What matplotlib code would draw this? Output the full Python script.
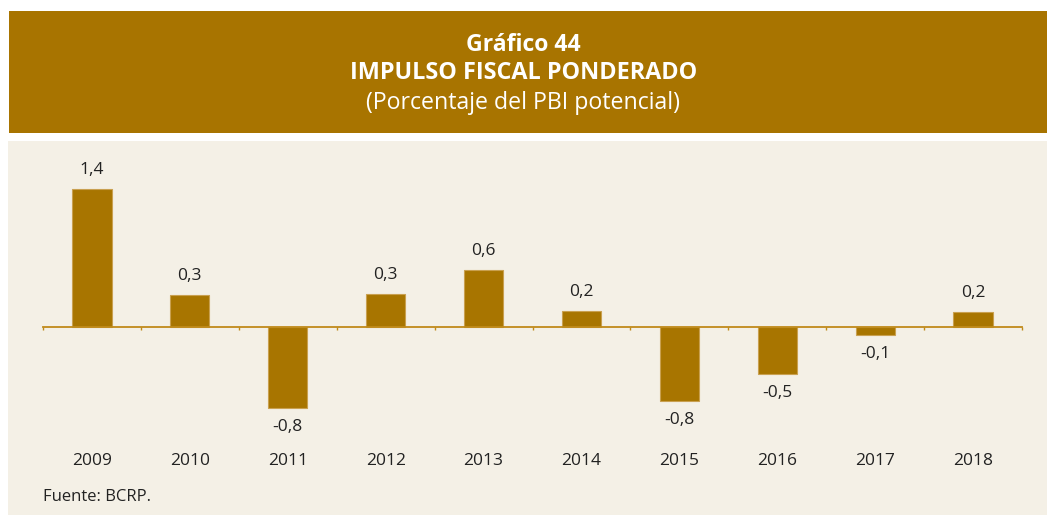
import matplotlib
matplotlib.use("Agg")
import matplotlib.pyplot as plt
from matplotlib.patches import Rectangle
from matplotlib.transforms import blended_transform_factory

# ---- data ----
years = ["2009", "2010", "2011", "2012", "2013", "2014", "2015", "2016", "2017", "2018"]
values = [1.40, 0.32, -0.82, 0.33, 0.58, 0.16, -0.75, -0.48, -0.08, 0.15]
labels = ["1,4", "0,3", "-0,8", "0,3", "0,6", "0,2", "-0,8", "-0,5", "-0,1", "0,2"]
title_lines = ["Gráfico 44", "IMPULSO FISCAL PONDERADO", "(Porcentaje del PBI potencial)"]
source = "Fuente: BCRP."

GOLD = "#A87400"
BAR = "#A87500"
BAR_EDGE = "#C9A050"
PANEL = "#F4F0E6"
TEXT = "#222222"
FONT = "Open Sans"

W, H = 1047, 515
fig = plt.figure(figsize=(W / 100, H / 100), dpi=100)
fig.patch.set_facecolor("white")


def fx(x):
    return x / W


def fy(y):
    return 1 - y / H


# banner
fig.patches.append(Rectangle((fx(9), fy(133)), fx(1047 - 9), (133 - 11) / H,
                             transform=fig.transFigure, facecolor=GOLD, edgecolor="none", zorder=-2))
# panel
fig.patches.append(Rectangle((fx(8), 0), fx(1047 - 8), (515 - 141) / H,
                             transform=fig.transFigure, facecolor=PANEL, edgecolor="none", zorder=-2))

fig.text(0.5, fy(45), title_lines[0], ha="center", va="center", color="white",
         fontsize=16.6, fontweight="bold", family=FONT)
fig.text(0.5, fy(73), title_lines[1], ha="center", va="center", color="white",
         fontsize=16.8, fontweight="bold", family=FONT)
fig.text(0.5, fy(103), title_lines[2], ha="center", va="center", color="white",
         fontsize=16.7, family=FONT)

# axes
left, right, top, bottom = 43, 1022, 160, 440
ax = fig.add_axes([fx(left), fy(bottom), (right - left) / W, (bottom - top) / H])
ax.set_facecolor("none")
ax.set_zorder(1)
x = list(range(len(years)))
ax.bar(x, values, width=0.4, color=BAR, edgecolor=BAR_EDGE, linewidth=0.8, zorder=2)
ax.set_xlim(-0.5, len(years) - 0.5)
ax.set_ylim(-1.146, 1.694)

for s in ["top", "right", "left"]:
    ax.spines[s].set_visible(False)
ax.spines["bottom"].set_position(("data", 0))
ax.spines["bottom"].set_color("#C08A1A")
ax.spines["bottom"].set_linewidth(1.3)
ax.spines["bottom"].set_zorder(3)
ax.set_yticks([])
ax.set_xticks([i - 0.5 for i in range(len(years) + 1)])
ax.set_xticklabels([])
ax.tick_params(axis="x", direction="out", length=2.5, width=1, color="#C08A1A")

for xi, v, lab in zip(x, values, labels):
    off = 13.7 if v >= 0 else -13.7
    ax.annotate(lab, (xi, v), xytext=(0, off), textcoords="offset points",
                ha="center", va="center", fontsize=12.5, color=TEXT, family=FONT)

tr = blended_transform_factory(ax.transData, fig.transFigure)
for xi, yr in zip(x, years):
    ax.text(xi, fy(461), yr, transform=tr, ha="center", va="center",
            fontsize=12.5, color=TEXT, family=FONT)

fig.text(fx(43), fy(497), source, ha="left", va="center", fontsize=12, color=TEXT, family=FONT)

fig.savefig("out.png", dpi=100, facecolor="white")
